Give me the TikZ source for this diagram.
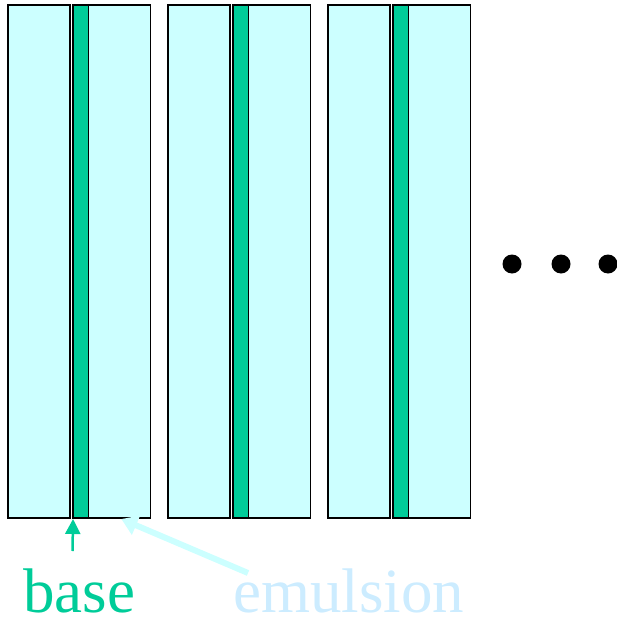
\documentclass[tikz,border=0pt]{standalone}
\usepackage{fontspec}
\setmainfont{Liberation Serif}
\usetikzlibrary{arrows.meta}
\definecolor{emulcol}{HTML}{CCFFFF}
\definecolor{basecol}{HTML}{00CC99}
\definecolor{emultext}{HTML}{CCECFF}
\tikzset{
  layer/.style={draw=black, line width=1.6pt, inner sep=0pt, outer sep=0pt, minimum height=513pt},
  emul/.style={layer, fill=emulcol, minimum width=62pt},
  basestrip/.style={layer, fill=basecol, minimum width=15.5pt},
  dot/.style={circle, fill=black, inner sep=0pt, minimum size=19pt},
  label/.style={anchor=base west, inner sep=0pt, font=\fontsize{63}{63}\selectfont}
}
\begin{document}
\begin{tikzpicture}[x=1pt,y=-1pt]
  \useasboundingbox (0,0) rectangle (617,621);
  % three emulsion/base/emulsion sheets
  \foreach \i/\x in {1/0,2/160,3/320}{
    \node[emul]      (el\i) at (\x+39.2,261.5) {};
    \node[basestrip] (b\i)  at (\x+80.8,261.5) {};
    \node[emul]      (er\i) at (\x+119.3,261.5) {};
  }
  % continuation dots
  \node[dot] (d1) at (512,264) {};
  \node[dot] (d2) at (561,264) {};
  \node[dot] (d3) at (608,264) {};
  % labels
  \node[label, text=basecol]  (lbase) at (23,612) {base};
  \node[label, text=emultext] (lemul) at (233,612) {emulsion};
  \coordinate (tbase) at (72.5,551);
  \coordinate (temul) at (248,573);
  \draw[basecol, line width=2.5pt, -{Triangle[length=15pt,width=15pt]}] (tbase) -- ([yshift=-1pt]b1.south west);
  \draw[emulcol, line width=6pt, -{Triangle[length=16pt,width=20pt]}] (temul) -- ([xshift=2pt,yshift=-1pt]er1.south);
\end{tikzpicture}
\end{document}
